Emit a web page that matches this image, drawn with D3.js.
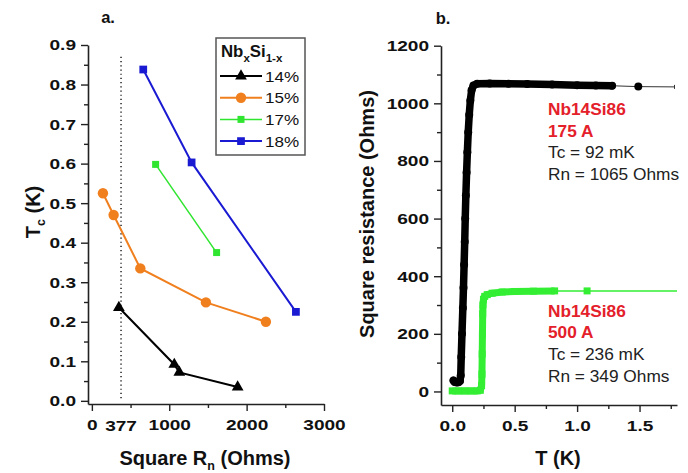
<!DOCTYPE html>
<html><head><meta charset="utf-8">
<script src="https://cdn.jsdelivr.net/npm/d3@7"></script>
<style>body{margin:0;background:#fff}svg{display:block}text{font-family:"Liberation Sans",Arial,sans-serif}</style>
</head><body><svg id="c" width="688" height="473"></svg>
<script>
// ---------- Panel a data ----------
const seriesNames = ["14%", "15%", "17%", "18%"];
const rn14 = [349, 1065, 1130, 1884];
const tc14 = [0.236, 0.092, 0.072, 0.035];
const rn15 = [143, 281, 626, 1474, 2249];
const tc15 = [0.525, 0.470, 0.335, 0.249, 0.200];
const rn17 = [824, 1612];
const tc17 = [0.598, 0.375];
const rn18 = [664, 1289, 2637];
const tc18 = [0.838, 0.603, 0.225];
const aXTicks = [0, 1000, 2000, 3000];
const aXMinor = [500, 1500, 2500];
const aXExtra = [377];
const aYTicks = [0, 0.1, 0.2, 0.3, 0.4, 0.5, 0.6, 0.7, 0.8, 0.9];
const aYMinor = [0.05, 0.15, 0.25, 0.35, 0.45, 0.55, 0.65, 0.75, 0.85];

// ---------- Panel b data ----------
const blackT = [0.010, 0.020, 0.035, 0.050, 0.062, 0.068, 0.072, 0.078, 0.085, 0.090, 0.095, 0.100, 0.104, 0.109, 0.115, 0.121, 0.128, 0.136, 0.145, 0.155, 0.170, 0.20, 0.30, 0.45, 0.60, 0.80, 1.00, 1.15, 1.28];
const blackR = [38, 33, 31, 32, 36, 55, 120, 200, 290, 360, 440, 520, 600, 680, 760, 830, 900, 960, 1010, 1045, 1062, 1068, 1069, 1068, 1067, 1065, 1063, 1062, 1061];
const blackSparseT = [1.28, 1.49, 1.78];
const blackSparseR = [1061, 1058, 1057];
const greenT = [0.00, 0.05, 0.10, 0.15, 0.20, 0.225, 0.235, 0.238, 0.240, 0.242, 0.244, 0.246, 0.250, 0.260, 0.28, 0.32, 0.40, 0.50, 0.65, 0.82];
const greenR = [2, 2, 2, 2, 2, 4, 20, 60, 130, 200, 270, 300, 320, 330, 336, 341, 345, 347, 348, 349];
const greenSparseT = [0.82, 1.08, 1.80];
const greenSparseR = [349, 349, 349];
const bXTicks = [0, 0.5, 1.0, 1.5];
const bXMinor = [0.25, 0.75, 1.25, 1.75];
const bYTicks = [0, 200, 400, 600, 800, 1000, 1200];
const bYMinor = [100, 300, 500, 700, 900, 1100];

const svg = d3.select("#c");
const TS = 1.23; // horizontal stretch of tick labels

function stext(g, x, y, str, opt) {
  const t = g.append("text")
    .attr("transform", `translate(${x},${y}) scale(${opt.sx || 1},1)`)
    .attr("font-size", opt.size)
    .attr("font-weight", opt.bold ? "bold" : "normal")
    .attr("fill", opt.fill || "#111")
    .attr("text-anchor", opt.anchor || "start");
  if (str !== null) t.text(str);
  return t;
}
function styleAxis(g, stretch) {
  g.select(".domain").attr("stroke", "#222").attr("stroke-width", 1.6);
  g.selectAll(".tick line").attr("stroke", "#222").attr("stroke-width", 1.4);
  g.selectAll(".tick text").attr("font-size", 15.5).attr("font-weight", "bold").attr("fill", "#111")
    .attr("font-family", '"Liberation Sans",Arial,sans-serif')
    .each(function () {
      const el = d3.select(this);
      const x = +el.attr("x") || 0;
      el.attr("x", x / stretch).attr("transform", `scale(${stretch},1)`);
    });
}

// ================= Panel a =================
const ax = d3.scaleLinear().domain([-50, 3000]).range([88, 324]);
const ay = d3.scaleLinear().domain([-0.008, 0.9]).range([404, 45]);
const ga = svg.append("g");

ga.append("g").attr("transform", "translate(0,404)")
  .call(d3.axisBottom(ax).tickValues(aXMinor).tickSize(4).tickSizeOuter(0).tickFormat(""))
  .call(g => { g.select(".domain").remove(); g.selectAll("line").attr("stroke", "#222").attr("stroke-width", 1.4); });
ga.append("g").attr("transform", "translate(0,404)")
  .call(d3.axisBottom(ax).tickValues(aXTicks).tickSize(7).tickPadding(8).tickSizeOuter(0).tickFormat(d3.format("d")))
  .call(g => styleAxis(g, TS));
aXExtra.forEach(v => stext(ga, ax(v), 430.5, String(v), { size: 15.5, bold: true, anchor: "middle", sx: TS }));

ga.append("g").attr("transform", "translate(88,0)")
  .call(d3.axisLeft(ay).tickValues(aYMinor).tickSize(4).tickSizeOuter(0).tickFormat(""))
  .call(g => { g.select(".domain").remove(); g.selectAll("line").attr("stroke", "#222").attr("stroke-width", 1.4); });
ga.append("g").attr("transform", "translate(88,0)")
  .call(d3.axisLeft(ay).tickValues(aYTicks).tickSize(7).tickPadding(5).tickSizeOuter(0).tickFormat(d3.format(".1f")))
  .call(g => styleAxis(g, TS));

// dotted 377 line
ga.append("line").attr("x1", ax(aXExtra[0])).attr("x2", ax(aXExtra[0]))
  .attr("y1", ay(0.87)).attr("y2", ay(0.0))
  .attr("stroke", "#222").attr("stroke-width", 1.5).attr("stroke-dasharray", "1.2,3");

const seriesA = [
  { name: seriesNames[0], x: rn14, y: tc14, color: "#000000", sym: d3.symbolTriangle, size: 60, lw: 2 },
  { name: seriesNames[1], x: rn15, y: tc15, color: "#f07f1e", sym: d3.symbolCircle, size: 85, lw: 2 },
  { name: seriesNames[2], x: rn17, y: tc17, color: "#2fe52f", sym: d3.symbolSquare, size: 49, lw: 1.5 },
  { name: seriesNames[3], x: rn18, y: tc18, color: "#1a1ad2", sym: d3.symbolSquare, size: 60, lw: 2 }
];
seriesA.forEach(s => {
  const pts = s.x.map((v, i) => [v, s.y[i]]);
  ga.append("path").datum(pts)
    .attr("d", d3.line().x(d => ax(d[0])).y(d => ay(d[1])))
    .attr("fill", "none").attr("stroke", s.color).attr("stroke-width", s.lw);
  ga.selectAll(null).data(pts).enter().append("path")
    .attr("d", d3.symbol().type(s.sym).size(s.size))
    .attr("transform", d => `translate(${ax(d[0])},${ay(d[1])})`)
    .attr("fill", s.color);
});

// legend
ga.append("rect").attr("x", 216).attr("y", 38).attr("width", 89).attr("height", 117)
  .attr("fill", "#fff").attr("stroke", "#555").attr("stroke-width", 1.5);
const lt = stext(ga, 221, 57, null, { size: 16, bold: true, sx: 1.05 });
lt.append("tspan").text("Nb");
lt.append("tspan").attr("font-size", 11).attr("dy", 5).text("x");
lt.append("tspan").attr("dy", -5).text("Si");
lt.append("tspan").attr("font-size", 11).attr("dy", 5).text("1-x");
seriesA.forEach((s, i) => {
  const yy = 76 + i * 21.7;
  ga.append("line").attr("x1", 220).attr("x2", 262).attr("y1", yy).attr("y2", yy)
    .attr("stroke", s.color).attr("stroke-width", s.lw);
  ga.append("path").attr("d", d3.symbol().type(s.sym).size(s.size))
    .attr("transform", `translate(241,${yy})`).attr("fill", s.color);
  stext(ga, 265, yy + 5.5, s.name, { size: 15.5, sx: 1.1 });
});

// titles
stext(ga, 108, 22.5, "a.", { size: 16.5, bold: true, anchor: "middle" });
const xl = stext(ga, 205, 465, null, { size: 20, bold: true, anchor: "middle" });
xl.append("tspan").text("Square R");
xl.append("tspan").attr("font-size", 12.5).attr("dy", 5).text("n");
xl.append("tspan").attr("dy", -5).text(" (Ohms)");
const yl = ga.append("text").attr("transform", "translate(40,212) rotate(-90)")
  .attr("text-anchor", "middle").attr("font-size", 20).attr("font-weight", "bold").attr("fill", "#111");
yl.append("tspan").text("T");
yl.append("tspan").attr("font-size", 12.5).attr("dy", 5).text("c");
yl.append("tspan").attr("dy", -5).text(" (K)");

// ================= Panel b =================
const bx = d3.scaleLinear().domain([-0.09, 1.8]).range([441, 677]);
const by = d3.scaleLinear().domain([-47, 1200]).range([405, 45.7]);
const gb = svg.append("g");

gb.append("g").attr("transform", "translate(0,405)")
  .call(d3.axisBottom(bx).tickValues(bXMinor).tickSize(4).tickSizeOuter(0).tickFormat(""))
  .call(g => { g.select(".domain").remove(); g.selectAll("line").attr("stroke", "#222").attr("stroke-width", 1.4); });
gb.append("g").attr("transform", "translate(0,405)")
  .call(d3.axisBottom(bx).tickValues(bXTicks).tickSize(7).tickPadding(8).tickSizeOuter(0).tickFormat(d3.format(".1f")))
  .call(g => styleAxis(g, TS));
gb.append("g").attr("transform", "translate(441,0)")
  .call(d3.axisLeft(by).tickValues(bYMinor).tickSize(4).tickSizeOuter(0).tickFormat(""))
  .call(g => { g.select(".domain").remove(); g.selectAll("line").attr("stroke", "#222").attr("stroke-width", 1.4); });
gb.append("g").attr("transform", "translate(441,0)")
  .call(d3.axisLeft(by).tickValues(bYTicks).tickSize(7).tickPadding(5).tickSizeOuter(0).tickFormat(d3.format("d")))
  .call(g => styleAxis(g, TS));

const bline = d3.line().x(d => bx(d[0])).y(d => by(d[1]));
// green (500 A)
const gPts = greenT.map((t, i) => [t, greenR[i]]);
const gSp = greenSparseT.map((t, i) => [t, greenSparseR[i]]);
gb.append("path").datum(gSp).attr("d", bline).attr("fill", "none").attr("stroke", "#33ee33").attr("stroke-width", 1.5);
gb.append("path").datum(gPts).attr("d", bline).attr("fill", "none").attr("stroke", "#33ee33")
  .attr("stroke-width", 7).attr("stroke-linejoin", "round");
gb.selectAll(null).data(gPts.concat(gSp.slice(1, 2))).enter().append("rect")
  .attr("x", d => bx(d[0]) - 3.5).attr("y", d => by(d[1]) - 3.5).attr("width", 7).attr("height", 7)
  .attr("fill", "#33ee33");
// black (175 A)
const kPts = blackT.map((t, i) => [t, blackR[i]]);
const kSp = blackSparseT.map((t, i) => [t, blackSparseR[i]]);
gb.append("path").datum(kSp).attr("d", bline).attr("fill", "none").attr("stroke", "#333").attr("stroke-width", 1);
gb.append("path").datum(kPts).attr("d", bline).attr("fill", "none").attr("stroke", "#000")
  .attr("stroke-width", 7.5).attr("stroke-linejoin", "round").attr("stroke-linecap", "round");
gb.selectAll(null).data(kPts.concat(kSp.slice(1, 2))).enter().append("circle")
  .attr("cx", d => bx(d[0])).attr("cy", d => by(d[1])).attr("r", 4).attr("fill", "#000");
gb.append("line").attr("x1", bx(blackSparseT[2])).attr("x2", bx(blackSparseT[2]))
  .attr("y1", by(blackSparseR[2]) - 2).attr("y2", by(blackSparseR[2]) + 2).attr("stroke", "#333");

// annotations
const ann = [
  { y: 115, t: "Nb14Si86", red: true }, { y: 136.7, t: "175 A", red: true },
  { y: 158, t: "Tc = 92 mK" }, { y: 180, t: "Rn = 1065 Ohms" },
  { y: 316.7, t: "Nb14Si86", red: true }, { y: 338.3, t: "500 A", red: true },
  { y: 360, t: "Tc = 236 mK" }, { y: 381.7, t: "Rn = 349 Ohms" }
];
ann.forEach(a => stext(gb, 548, a.y, a.t, { size: 16, bold: !!a.red, fill: a.red ? "#e4202a" : "#222", sx: 1.08 }));

stext(gb, 443, 24, "b.", { size: 16.5, bold: true, anchor: "middle" });
stext(gb, 558, 465, "T (K)", { size: 20, bold: true, anchor: "middle" });
gb.append("text").attr("transform", "translate(374,214) rotate(-90)")
  .attr("text-anchor", "middle").attr("font-size", 20).attr("font-weight", "bold").attr("fill", "#111")
  .text("Square resistance (Ohms)");
</script></body></html>
